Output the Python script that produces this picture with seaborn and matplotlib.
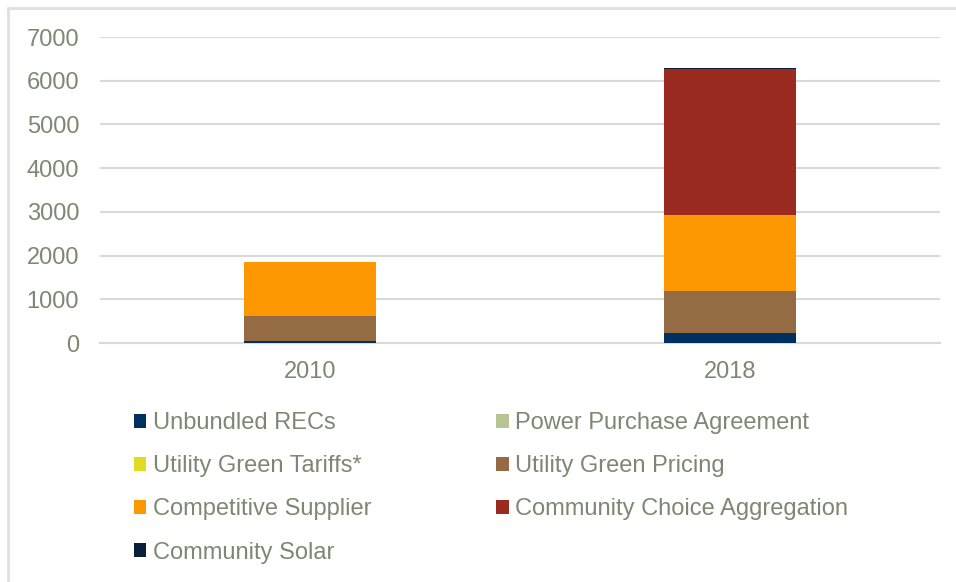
import matplotlib
matplotlib.use("Agg")
import matplotlib.pyplot as plt
from matplotlib.lines import Line2D
from matplotlib.patches import Patch
import pandas as pd
import seaborn as sns

# data
years = ["2010", "2018"]
series = ["Unbundled RECs", "Power Purchase Agreement", "Utility Green Tariffs*",
          "Utility Green Pricing", "Competitive Supplier",
          "Community Choice Aggregation", "Community Solar"]
unbundled_recs = [40, 220]
power_purchase = [0, 0]
green_tariffs = [0, 0]
green_pricing = [580, 960]
competitive_supplier = [1225, 1740]
cca = [0, 3350]
community_solar = [0, 30]
colors = ["#00305f", "#b7c493", "#dfdc22", "#956b43", "#fd9803", "#9b2b20", "#0b1f3a"]
yticks = [0, 1000, 2000, 3000, 4000, 5000, 6000, 7000]

sns.set_style("white")
plt.rcParams["font.family"] = ["Liberation Sans", "DejaVu Sans"]
text_col = "#7f8773"
grid_col = "#d9d9d9"

frame = pd.DataFrame([unbundled_recs, power_purchase, green_tariffs, green_pricing,
                      competitive_supplier, cca, community_solar],
                     index=series, columns=years).T
# cumulative tops, drawn from the top segment down so lower ones cover the rest
tops = frame.cumsum(axis=1)

fig = plt.figure(figsize=(9.56, 5.82), dpi=100)
ax = fig.add_axes([100 / 956, 1 - 343 / 582, 840 / 956, 306 / 582])
for name, col in reversed(list(zip(series, colors))):
    sns.barplot(x=tops.index, y=tops[name], color=col, width=0.314, ax=ax,
                saturation=1, linewidth=0, zorder=3)

ax.set_ylim(0, 7000)
ax.set_xlim(-0.5, 1.5)
ax.set_yticks(yticks)
ax.set_yticklabels([str(t) for t in yticks])
ax.set_xlabel("")
ax.set_ylabel("")
ax.yaxis.grid(True, color=grid_col, linewidth=1.5, zorder=0)
ax.set_axisbelow(True)
for side in ["top", "right", "left"]:
    ax.spines[side].set_visible(False)
ax.spines["bottom"].set_color(grid_col)
ax.spines["bottom"].set_linewidth(1.5)
ax.tick_params(axis="both", length=0, labelsize=17, labelcolor=text_col)
ax.tick_params(axis="y", pad=15)
ax.tick_params(axis="x", pad=13)

# legend, two columns filled row by row
handles = [Patch(facecolor=c, edgecolor="none") for c in colors]
order = [0, 2, 4, 6, 1, 3, 5]
leg = fig.legend([handles[i] for i in order], [series[i] for i in order],
                 ncol=2, loc="upper left", bbox_to_anchor=(134 / 956, 1 - 412 / 582),
                 frameon=False, fontsize=17, labelcolor=text_col, borderpad=0,
                 borderaxespad=0, handlelength=0.52, handleheight=0.52,
                 handletextpad=0.27, columnspacing=5.3, labelspacing=0.9)

# outer chart border (only top and left edges are in the frame)
fig.add_artist(Line2D([8 / 956, 8 / 956], [0, 1 - 8 / 582], color="#e0e0dc", linewidth=2))
fig.add_artist(Line2D([8 / 956, 1], [1 - 8 / 582, 1 - 8 / 582], color="#e0e0dc", linewidth=2))

fig.savefig("out.png", dpi=100)
